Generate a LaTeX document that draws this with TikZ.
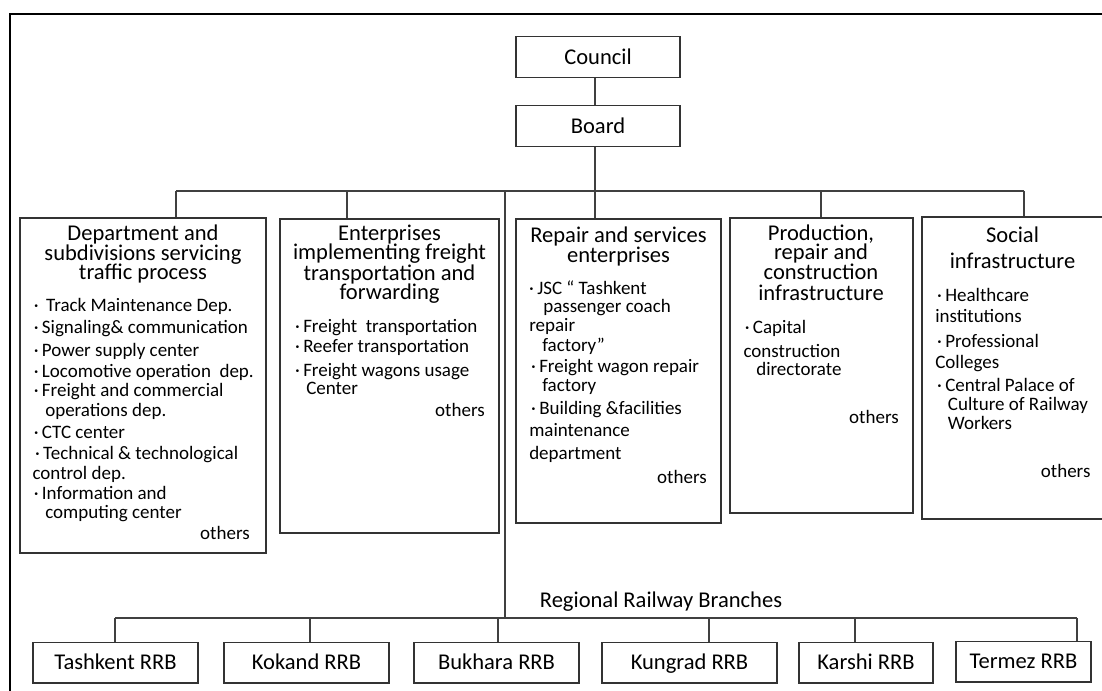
\documentclass[tikz,border=0pt]{standalone}
\usepackage{fontspec}
\setmainfont{Carlito}
\usetikzlibrary{fit}
% bullet hanging to the left of an item line
\newcommand\bul{\llap{·\hspace{2.5pt}}}

\begin{document}
\begin{tikzpicture}[x=0.75pt,y=-0.75pt,
  frame/.style={line width=2.2pt, black},
  wire/.style={line width=0.9pt, black!75},
  panel/.style={draw=black!80, line width=1pt, inner sep=0pt},
  unit/.style={draw=black!80, line width=1pt, inner sep=0pt, minimum height=30.5pt,
    text height=10.9pt, text depth=0pt, font=\fontsize{16.9}{20}\selectfont},
  ttl/.style={anchor=base, inner sep=0pt, text height=11pt, text depth=2pt,
    font=\fontsize{16.9}{20}\selectfont},
  itm/.style={anchor=base west, inner sep=0pt, text height=9.5pt, text depth=2pt,
    font=\fontsize{14.25}{17}\selectfont},
  oth/.style={anchor=base east, inner sep=0pt, text height=9.5pt, text depth=2pt,
    font=\fontsize{14.25}{17}\selectfont},
]
\useasboundingbox (0,0) rectangle (1102,691);
\clip (0,0) rectangle (1102,691);
\fill[white] (0,0) rectangle (1102,691);

% outer frame (top and left edges)
\draw[frame] (10,700) -- (10,14) -- (1110,14);

% top of the hierarchy
\node[unit, minimum width=123pt] (council) at (598,57) {Council};
\node[unit, minimum width=123pt] (board) at (598,126) {Board};

% the five divisions
\node[panel, fit={(20,218) (266,553)}] (dept) {};
\node[panel, fit={(280,219) (499,533)}] (ent) {};
\node[panel, fit={(516,219) (721,523)}] (repair) {};
\node[panel, fit={(730,218) (913,513)}] (prod) {};
\node[panel, fit={(922,217) (1125,519)}] (soc) {};

% regional branches
\node[unit, minimum width=123.75pt] (tash) at (115.5,662.5) {Tashkent RRB};
\node[unit, minimum width=123.75pt] (kok) at (306.5,662.5) {Kokand RRB};
\node[unit, minimum width=123.75pt] (bukh) at (496.5,662.5) {Bukhara RRB};
\node[unit, minimum width=131.25pt] (kung) at (689.5,662.5) {Kungrad RRB};
\node[unit, minimum width=100.5pt] (kar) at (866,662.5) {Karshi RRB};
\node[unit, minimum width=101.25pt] (ter) at (1023.5,661.5) {Termez RRB};

\node[ttl] (rrbcap) at (661,607) {Regional Railway Branches};

% connectors
\coordinate (bx) at (595,0);
\draw[wire] (bx |- council.south) -- (bx |- board.north);
\draw[wire] (bx |- board.south) -- (bx |- repair.north);
\coordinate (busL) at (176,191);
\coordinate (busR) at (1024,191);
\draw[wire] (busL) -- (busR);
\draw[wire] (busL) -- (busL |- dept.north);
\coordinate (tEnt) at (347,191);
\draw[wire] (tEnt) -- (tEnt |- ent.north);
\coordinate (tProd) at (821,191);
\draw[wire] (tProd) -- (tProd |- prod.north);
\draw[wire] (busR) -- (busR |- soc.north);
\coordinate (trunkT) at (505,191);
\coordinate (trunkB) at (505,618);
\draw[wire] (trunkT) -- (trunkB);
\coordinate (rbL) at (115,618);
\coordinate (rbR) at (1077,618);
\draw[wire] (rbL) -- (rbR);
\draw[wire] (rbL) -- (rbL |- tash.north);
\coordinate (tKok) at (310,618);
\draw[wire] (tKok) -- (tKok |- kok.north);
\coordinate (tBukh) at (498,618);
\draw[wire] (tBukh) -- (tBukh |- bukh.north);
\coordinate (tKung) at (709,618);
\draw[wire] (tKung) -- (tKung |- kung.north);
\coordinate (tKar) at (855,618);
\draw[wire] (tKar) -- (tKar |- kar.north);
\draw[wire] (rbR) -- (rbR |- ter.north);

% Department and subdivisions
\foreach \yy/\tx [count=\i] in {241/Department and, 261/subdivisions servicing, 280/traffic process}
  \node[ttl] (deptT\i) at (143,\yy) {\tx};
\foreach \xx/\yy/\tx [count=\i] in {
    41.7/311/{\bul\ Track Maintenance Dep.},
    41.7/333.5/{\bul Signaling\& communication},
    41.7/356/{\bul Power supply center},
    41.7/378/{\bul Locomotive operation~~dep.},
    41.7/396/{\bul Freight and commercial},
    45/416/{operations dep.},
    41.7/438/{\bul CTC center},
    43/459.5/{\bul Technical \& technological},
    32.3/479.5/{control dep.},
    41.7/499.5/{\bul Information and},
    45/518.5/{computing center}}
  \node[itm] (deptI\i) at (\xx,\yy) {\tx};
\node[oth] (deptO) at (250,539.5) {others};

% Freight enterprises
\foreach \yy/\tx [count=\i] in {240.5/Enterprises, 260/implementing freight, 280.5/transportation and, 300/forwarding}
  \node[ttl] (entT\i) at (389.5,\yy) {\tx};
\foreach \xx/\yy/\tx [count=\i] in {
    303/333/{\bul Freight~~transportation},
    303/352/{\bul Reefer transportation},
    303/376/{\bul Freight wagons usage},
    306/394.5/{Center}}
  \node[itm] (entI\i) at (\xx,\yy) {\tx};
\node[oth] (entO) at (485,416) {others};

% Repair and services
\foreach \yy/\tx [count=\i] in {243/Repair and services, 263/enterprises}
  \node[ttl] (repT\i) at (618.5,\yy) {\tx};
\foreach \xx/\yy/\tx [count=\i] in {
    537/294.5/{\bul JSC “ Tashkent},
    543/313/{passenger coach},
    529/331/{repair},
    542/351/{factory”},
    539/373/{\bul Freight wagon repair},
    542/391/{factory},
    539/414/{\bul Building \&facilities},
    529/436/{maintenance},
    529/459.5/{department}}
  \node[itm] (repI\i) at (\xx,\yy) {\tx};
\node[oth] (repO) at (707,483) {others};

% Production, repair and construction
\foreach \yy/\tx [count=\i] in {240.5/{Production,}, 260/repair and, 280/construction, 300.5/infrastructure}
  \node[ttl] (prodT\i) at (821,\yy) {\tx};
\foreach \xx/\yy/\tx [count=\i] in {
    752.7/333.5/{\bul Capital},
    743.3/357/{construction},
    756/375/{directorate}}
  \node[itm] (prodI\i) at (\xx,\yy) {\tx};
\node[oth] (prodO) at (899,423) {others};

% Social infrastructure
\foreach \yy/\tx [count=\i] in {243/Social, 269/infrastructure}
  \node[ttl] (socT\i) at (1012.5,\yy) {\tx};
\foreach \xx/\yy/\tx [count=\i] in {
    945/302/{\bul Healthcare},
    935/323/{institutions},
    945/348/{\bul Professional},
    935/368.5/{Colleges},
    945/391/{\bul Central Palace of},
    947.7/410.5/{Culture of Railway},
    947.7/429/{Workers}}
  \node[itm] (socI\i) at (\xx,\yy) {\tx};
\node[oth] (socO) at (1090.7,477) {others};
\end{tikzpicture}
\end{document}
